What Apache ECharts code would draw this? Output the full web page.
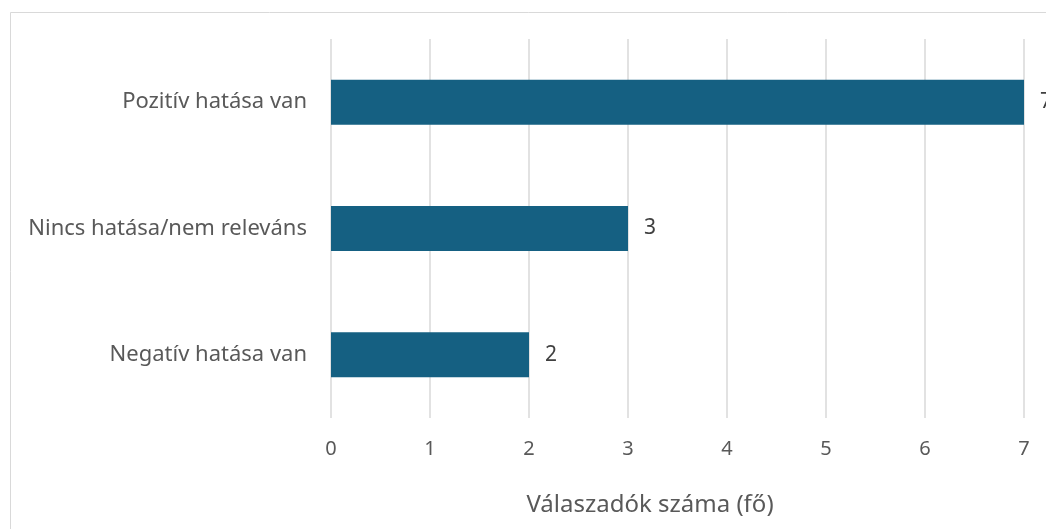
<!DOCTYPE html>
<html>
<head>
<meta charset="utf-8">
<script src="https://cdn.jsdelivr.net/npm/echarts@6/dist/echarts.min.js"></script>
<style>html,body{margin:0;padding:0;background:#fff}#c{width:1046px;height:529px}</style>
</head>
<body>
<div id="c"></div>
<script>
const categories = ['Negatív hatása van', 'Nincs hatása/nem releváns', 'Pozitív hatása van'];
const values = [2, 3, 7];
const xTicks = [0, 1, 2, 3, 4, 5, 6, 7];
const axisName = 'Válaszadók száma (fő)';

const font = '"Noto Sans", sans-serif';
const chart = echarts.init(document.getElementById('c'), null, {renderer: 'canvas'});
chart.setOption({
  animation: false,
  backgroundColor: '#fff',
  graphic: [{
    type: 'rect', left: 8, top: 10, silent: true,
    shape: {x: 0.5, y: 0.5, width: 1200, height: 700},
    style: {fill: 'none', stroke: '#d9d9d9', lineWidth: 1}
  }],
  grid: {left: 331, right: 22, top: 39, bottom: 111, containLabel: false},
  xAxis: {
    type: 'value', min: xTicks[0], max: xTicks[xTicks.length - 1], interval: 1,
    name: axisName, nameLocation: 'middle', nameGap: 75,
    nameTextStyle: {fontFamily: font, fontSize: 24, color: '#595959', padding: [0, 55, 0, 0]},
    axisLine: {show: false}, axisTick: {show: false},
    axisLabel: {margin: 21, fontFamily: font, fontSize: 20, color: '#595959'},
    splitLine: {show: true, lineStyle: {color: '#d9d9d9', width: 1.5}}
  },
  yAxis: {
    type: 'category', data: categories,
    axisLine: {show: false}, axisTick: {show: false},
    axisLabel: {margin: 24, fontFamily: font, fontSize: 22, color: '#595959'}
  },
  series: [{
    type: 'bar', data: values, barWidth: 45,
    itemStyle: {color: '#156082'},
    label: {show: true, position: 'right', distance: 16, fontFamily: font, fontSize: 21, color: '#404040'}
  }]
});
</script>
</body>
</html>
